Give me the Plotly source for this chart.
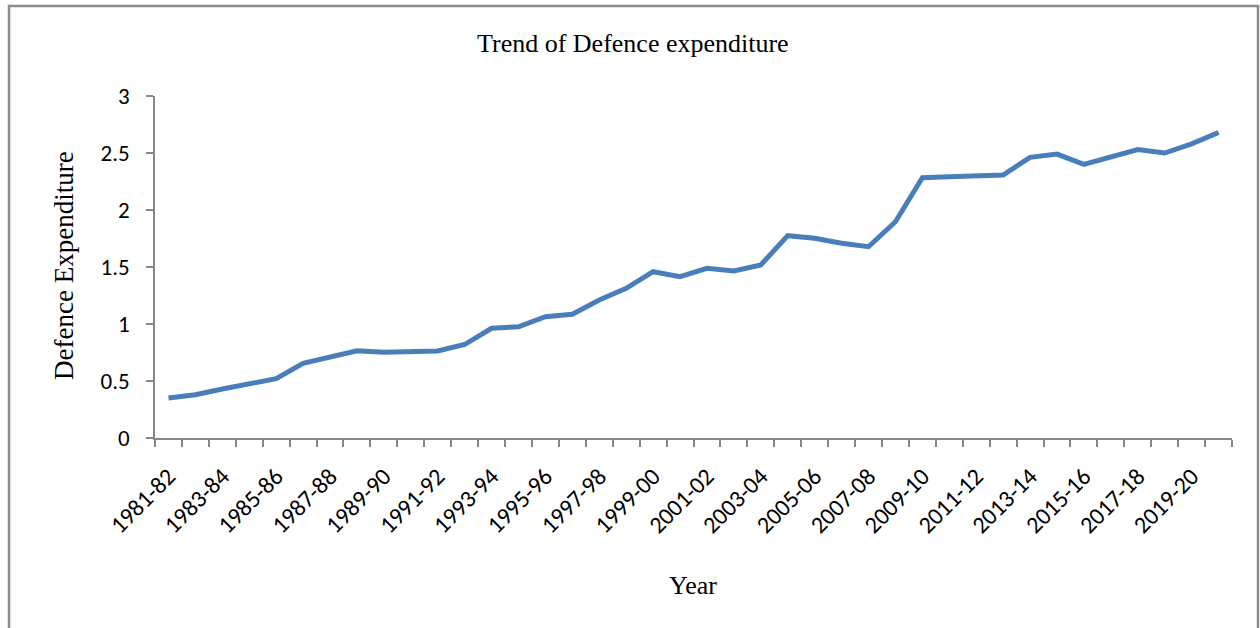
import plotly.graph_objects as go

years = ["1981-82", "1982-83", "1983-84", "1984-85", "1985-86", "1986-87", "1987-88", "1988-89",
         "1989-90", "1990-91", "1991-92", "1992-93", "1993-94", "1994-95", "1995-96", "1996-97",
         "1997-98", "1998-99", "1999-00", "2000-01", "2001-02", "2002-03", "2003-04", "2004-05",
         "2005-06", "2006-07", "2007-08", "2008-09", "2009-10", "2010-11", "2011-12", "2012-13",
         "2013-14", "2014-15", "2015-16", "2016-17", "2017-18", "2018-19", "2019-20", "2020-21"]

defence = [0.35, 0.38, 0.43, 0.48, 0.52, 0.655, 0.71, 0.765, 0.752, 0.76, 0.763, 0.82,
           0.962, 0.976, 1.064, 1.085, 1.21, 1.313, 1.459, 1.415, 1.488, 1.465, 1.518, 1.775,
           1.752, 1.708, 1.678, 1.897, 2.283, 2.292, 2.304, 2.307, 2.462, 2.49, 2.40, 2.47,
           2.53, 2.50, 2.58, 2.68]

tick_text = [y if i % 2 == 0 else "" for i, y in enumerate(years)]

y_ticks = [0, 0.5, 1, 1.5, 2, 2.5, 3]
y_tick_text = ["0", "0.5", "1", "1.5", "2", "2.5", "3"]

W, H = 1260, 628
L, R, T, B = 155, 28, 96, 190
pw, ph = W - L - R, H - T - B

def px(x):
    return (x - L) / pw

def py(y):
    return (H - B - y) / ph

SANS = "Calibri, Carlito, Lato, sans-serif"
SERIF = "Times New Roman, Liberation Serif, serif"
AX = "#868686"

fig = go.Figure()
fig.add_trace(go.Scatter(
    x=years, y=defence, mode="lines",
    line=dict(color="#4A7EBB", width=5),
    showlegend=False, hoverinfo="x+y",
))

fig.update_layout(
    width=W, height=H,
    margin=dict(l=L, r=R, t=T, b=B),
    paper_bgcolor="white", plot_bgcolor="white",
    xaxis=dict(
        type="category", tickmode="array", tickvals=years, ticktext=tick_text,
        tickson="boundaries", ticks="outside", ticklen=7, tickcolor=AX, tickwidth=1.5,
        showline=True, linecolor=AX, linewidth=1.5, showgrid=False, zeroline=False,
        tickangle=-45, tickfont=dict(family=SANS, size=24, color="black"),
        ticklabelstandoff=13, range=[-0.5, len(years) - 0.5],
    ),
    yaxis=dict(
        range=[0, 3], tickmode="array", tickvals=y_ticks, ticktext=y_tick_text,
        ticks="outside", ticklen=7, tickcolor=AX, tickwidth=1.5,
        showline=True, linecolor=AX, linewidth=1.5, showgrid=False, zeroline=False,
        tickfont=dict(family=SANS, size=23, color="black"), ticklabelstandoff=12,
    ),
    shapes=[dict(
        type="rect", xref="paper", yref="paper",
        x0=px(9), x1=px(1258), y0=py(700), y1=py(6),
        line=dict(color="#8c8c8c", width=2.5), fillcolor="rgba(0,0,0,0)", layer="below",
    )],
    annotations=[
        dict(text="Trend of Defence expenditure", xref="paper", yref="paper",
             x=px(633), y=py(44), showarrow=False, xanchor="center", yanchor="middle",
             font=dict(family=SERIF, size=26, color="black")),
        dict(text="Defence Expenditure", xref="paper", yref="paper",
             x=px(64), y=py(266), showarrow=False, xanchor="center", yanchor="middle",
             textangle=-90, font=dict(family=SERIF, size=27, color="black")),
        dict(text="Year", xref="paper", yref="paper",
             x=px(693), y=py(585), showarrow=False, xanchor="center", yanchor="middle",
             font=dict(family=SERIF, size=26, color="black")),
    ],
)

fig.write_html("out.html")
